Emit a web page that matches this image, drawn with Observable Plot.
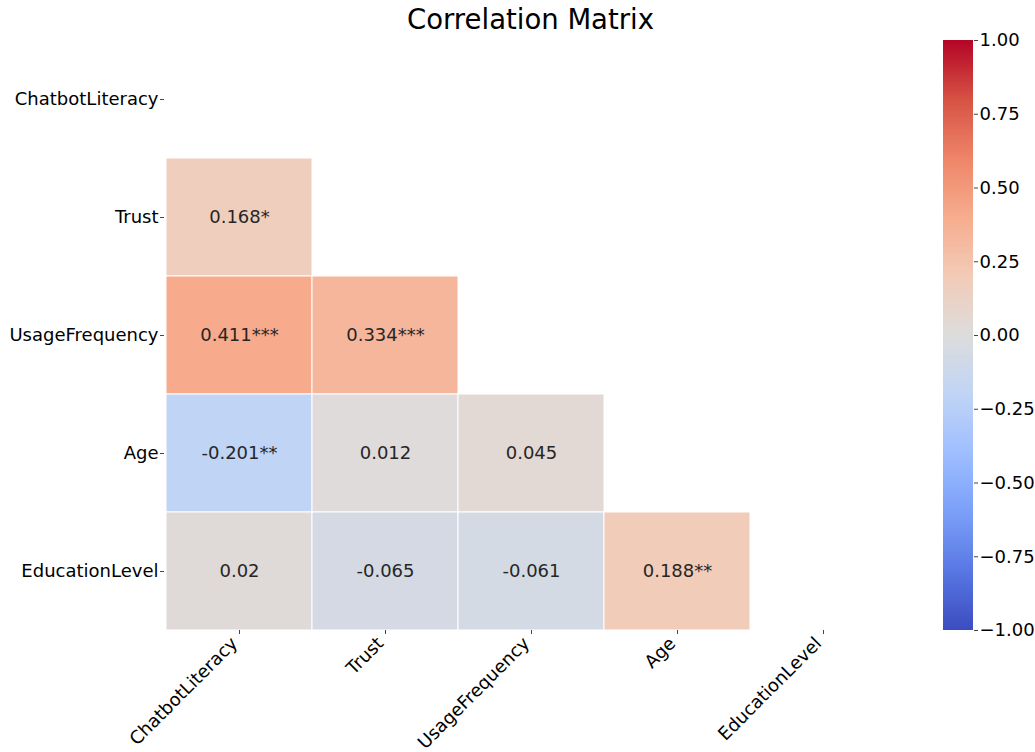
<!DOCTYPE html>
<html>
<head>
<meta charset="utf-8">
<script src="https://cdn.jsdelivr.net/npm/d3@7"></script>
<script src="https://cdn.jsdelivr.net/npm/@observablehq/plot@0.6"></script>
<style>
  html, body { margin: 0; padding: 0; background: #fff; }
  #wrap { position: relative; width: 1035px; height: 752px; font-family: "DejaVu Sans", sans-serif; }
  #title { position: absolute; left: 164px; width: 733px; top: 3px; text-align: center; font-size: 27.5px; color: #000; }
  #main { position: absolute; left: 0; top: 0; }
  #cbar { position: absolute; left: 930px; top: 0; }
  svg { font-family: "DejaVu Sans", sans-serif; }
</style>
</head>
<body>
<div id="wrap">
  <div id="main"></div>
  <div id="cbar"></div>
  <div id="title">Correlation Matrix</div>
</div>
<script>
// Variables (rows and columns)
const variables = ["ChatbotLiteracy", "Trust", "UsageFrequency", "Age", "EducationLevel"];

// Lower-triangle correlation values (row variable, column variable)
const rowVars = ["Trust", "UsageFrequency", "UsageFrequency", "Age", "Age", "Age", "EducationLevel", "EducationLevel", "EducationLevel", "EducationLevel"];
const colVars = ["ChatbotLiteracy", "ChatbotLiteracy", "Trust", "ChatbotLiteracy", "Trust", "UsageFrequency", "ChatbotLiteracy", "Trust", "UsageFrequency", "Age"];
const corrValues = [0.168, 0.411, 0.334, -0.201, 0.012, 0.045, 0.02, -0.065, -0.061, 0.188];
const corrLabels = ["0.168*", "0.411***", "0.334***", "-0.201**", "0.012", "0.045", "0.02", "-0.065", "-0.061", "0.188**"];

// Colorbar ticks
const cbarTicks = [-1, -0.75, -0.5, -0.25, 0, 0.25, 0.5, 0.75, 1];

// coolwarm colormap stops
const coolwarm = ["#3b4cc0", "#5977e3", "#7b9ff9", "#9ebeff", "#c0d4f5", "#dddcdc", "#f2cbb7", "#f7ac8e", "#ee8468", "#d65244", "#b40426"];
const interp = d3.piecewise(d3.interpolateRgb, coolwarm);

const cells = corrValues.map((v, i) => ({row: rowVars[i], col: colVars[i], value: v, label: corrLabels[i]}));

const colorScale = {type: "linear", domain: [-1, 1], interpolate: () => interp};

const main = Plot.plot({
  width: 930,
  height: 752,
  marginLeft: 164,
  marginRight: 33,
  marginTop: 40,
  marginBottom: 122,
  style: {fontFamily: "DejaVu Sans, sans-serif", background: "white", color: "#000"},
  x: {type: "band", domain: variables, padding: 0},
  y: {type: "band", domain: variables, padding: 0},
  color: colorScale,
  marks: [
    Plot.cell(cells, {x: "col", y: "row", fill: "value", stroke: "white", strokeWidth: 1, inset: 0}),
    Plot.text(cells, {x: "col", y: "row", text: "label", fill: "#262626", fontSize: 18}),
    Plot.axisX({tickSize: 4, tickFormat: () => "", label: null, stroke: "#444"}),
    Plot.axisX({tickRotate: -45, fontSize: 18, tickSize: 0, tickPadding: 8, dx: -5, dy: 2, label: null}),
    Plot.axisY({fontSize: 18, tickSize: 4, tickPadding: 2, label: null, stroke: "#444"})
  ]
});
document.getElementById("main").appendChild(main);

// Colorbar gradient strips
const step = 0.005;
const strips = d3.range(-1, 1, step).map(v => ({y1: v, y2: Math.min(1, v + step + 0.002), mid: v + step / 2}));

const cbar = Plot.plot({
  width: 105,
  height: 752,
  marginLeft: 13,
  marginRight: 62,
  marginTop: 40,
  marginBottom: 122,
  style: {fontFamily: "DejaVu Sans, sans-serif", background: "white", color: "#000"},
  x: {domain: [0, 1], axis: null},
  y: {domain: [-1, 1]},
  color: colorScale,
  marks: [
    Plot.rect(strips, {x1: 0, x2: 1, y1: "y1", y2: "y2", fill: "mid", shapeRendering: "crispEdges"}),
    Plot.axisY({anchor: "right", ticks: cbarTicks, tickFormat: d3.format(".2f"), fontSize: 18, tickSize: 4, tickPadding: 2, label: null, stroke: "#444"})
  ]
});
document.getElementById("cbar").appendChild(cbar);
</script>
</body>
</html>
